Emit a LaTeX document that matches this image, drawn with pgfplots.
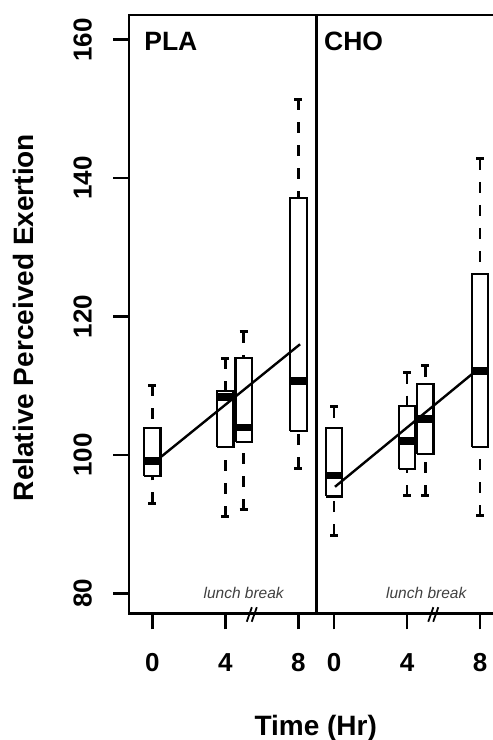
\documentclass[border=0pt]{standalone}
\usepackage{pgfplots}
\pgfplotsset{compat=1.18}
\usepackage{fontspec}
\setmainfont{Liberation Sans}

\tikzset{
  boxst/.style={black, line width=2.1pt},
  medst/.style={black, line width=7.5pt},
  whisk/.style={black, line width=2.5pt, dash pattern=on 11pt off 12pt},
  wcap/.style={black, line width=2.9pt},
  lbl/.style={font=\fontsize{26.5}{27}\selectfont\bfseries, anchor=base west, inner sep=0pt},
  lunch/.style={font=\fontsize{15.5}{16}\selectfont\itshape, text=black!75, anchor=base, inner sep=0pt},
}

\pgfplotsset{
  panel/.style={
    scale only axis, width=187.7pt, height=598.3pt,
    anchor=south west,
    ymin=77.12, ymax=163.58,
    axis line style={line width=2.6pt},
    clip=false,
    xtick={0,4,8}, xtick pos=bottom, tick align=outside,
    major tick length=16pt,
    every tick/.style={line width=2.6pt, black},
    /pgf/number format/assume math mode=true,
    xticklabel style={font=\fontsize{26}{26}\selectfont\bfseries, inner sep=0pt},
    xticklabel shift=24pt,
  },
}

% \bx{pos}{lower whisker}{q1}{median}{q3}{upper whisker}
\newcommand{\bx}[6]{%
  \pgfmathsetmacro\xa{#1-0.445}\pgfmathsetmacro\xb{#1+0.445}%
  \pgfmathsetmacro\ca{#1-0.22}\pgfmathsetmacro\cb{#1+0.22}%
  \edef\tmp{%
    \noexpand\addplot[whisk] coordinates {(#1,#2) (#1,#3)};
    \noexpand\addplot[whisk] coordinates {(#1,#6) (#1,#5)};
    \noexpand\addplot[wcap] coordinates {(\ca,#2) (\cb,#2)};
    \noexpand\addplot[wcap] coordinates {(\ca,#6) (\cb,#6)};
    \noexpand\addplot[boxst] coordinates {(\xa,#3) (\xb,#3) (\xb,#5) (\xa,#5) (\xa,#3)};
    \noexpand\addplot[medst] coordinates {(\xa,#4) (\xb,#4)};
  }\tmp}

\begin{document}
\begin{tikzpicture}
\useasboundingbox (0,0) rectangle (493pt,740pt);

% PLA
\begin{axis}[panel, at={(129pt,126.7pt)}, xmin=-1.28, xmax=9.0,
  ytick={80,100,...,160}, ytick pos=left,
  yticklabel style={rotate=90, anchor=south, inner sep=0pt,
    font=\fontsize{26}{26}\selectfont\bfseries},
  yticklabel shift=21pt]
\bx{0}{93.0}{97.0}{99.1}{103.9}{110.1}
\bx{4}{91.1}{101.1}{108.4}{109.2}{114.0}
\bx{5}{92.1}{101.9}{104.0}{114.0}{117.8}
\bx{8}{98.1}{103.5}{110.7}{137.1}{151.4}
\addplot[line width=2.4pt] coordinates {(0.46,99.7) (8.09,116.0)};
\addplot[line width=1.8pt] coordinates {(5.17,75.9) (5.45,78.0)};
\addplot[line width=1.8pt] coordinates {(5.44,75.9) (5.72,78.0)};
\node[lbl] at (axis cs:-0.45,158.5) {PLA};
\node[lunch] at (axis cs:5,79.3) {lunch break};
\end{axis}

% CHO
\begin{axis}[panel, at={(316.7pt,126.7pt)}, xmin=-0.95, xmax=9.33,
  ytick=\empty]
\bx{0}{88.4}{94.0}{97.0}{103.9}{107.0}
\bx{4}{94.1}{98.0}{102.0}{107.1}{111.9}
\bx{5}{94.1}{100.1}{105.2}{110.2}{112.9}
\bx{8}{91.2}{101.2}{112.1}{126.2}{142.8}
\addplot[line width=2.4pt] coordinates {(0.05,95.4) (7.7,112.0)};
\addplot[line width=1.8pt] coordinates {(5.16,75.9) (5.44,78.0)};
\addplot[line width=1.8pt] coordinates {(5.43,75.9) (5.71,78.0)};
\node[lbl] at (axis cs:-0.55,158.5) {CHO};
\node[lunch] at (axis cs:5.05,79.3) {lunch break};
\end{axis}

\node[rotate=90, anchor=base, inner sep=0pt, font=\fontsize{28}{28}\selectfont\bfseries]
  at (33pt,422.5pt) {Relative Perceived Exertion};
\node[anchor=base, inner sep=0pt, font=\fontsize{28}{28}\selectfont\bfseries]
  at (315.7pt,5pt) {Time (Hr)};
\end{tikzpicture}
\end{document}
